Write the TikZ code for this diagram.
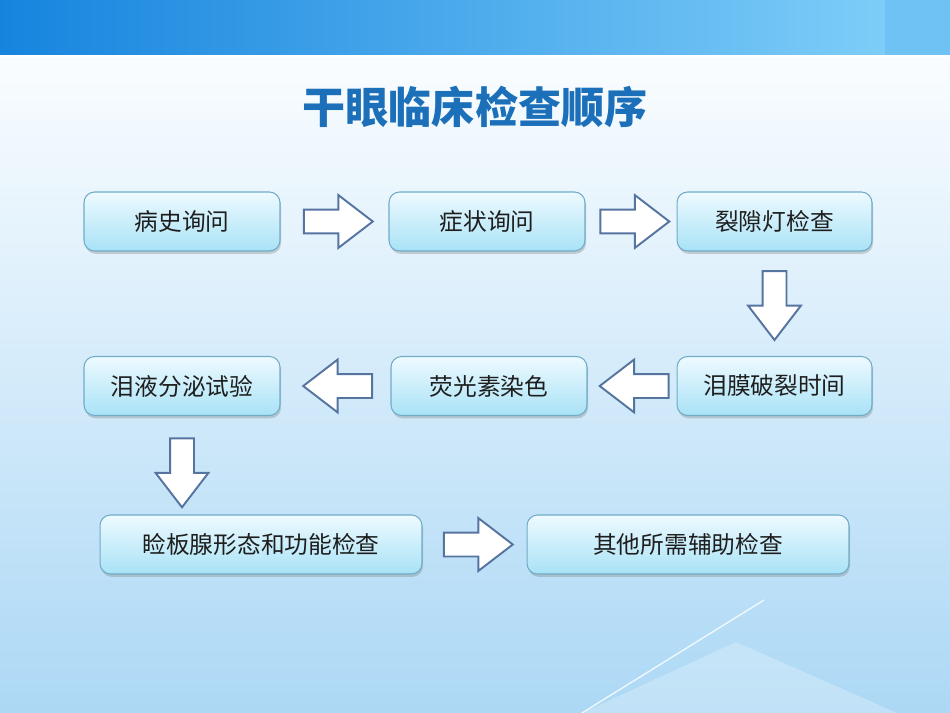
\documentclass[tikz,border=0pt]{standalone}
\usepackage{fontspec}
\newfontfamily\cjk{Noto Sans CJK SC}
\usetikzlibrary{shapes.arrows,shadows,calc}
\definecolor{titleblue}{RGB}{28,112,186}
\definecolor{boxtop}{RGB}{238,250,255}
\definecolor{boxbottom}{RGB}{168,226,246}
\definecolor{boxline}{RGB}{112,172,200}
\definecolor{boxtext}{RGB}{30,30,30}
\definecolor{arrowline}{RGB}{86,116,160}
\definecolor{bannerleft}{RGB}{22,132,222}
\definecolor{bannerright}{RGB}{125,205,248}
\definecolor{bgtop}{RGB}{250,253,255}
\definecolor{bgmiddle}{RGB}{232,243,252}
\definecolor{bgbottom}{RGB}{172,216,245}
\tikzset{
  stepbox/.style={rounded corners=6pt, draw=boxline, line width=0.6pt,
    top color=boxtop, bottom color=boxbottom, minimum height=1.18cm,
    text=boxtext, font=\cjk\fontsize{13.5}{16}\selectfont,
    drop shadow={opacity=0.35, shadow xshift=0.6pt, shadow yshift=-1.6pt}},
  blockarrow/.style={single arrow, draw=arrowline, fill=white, line width=1.1pt,
    inner sep=0pt, inner ysep=0.22cm, minimum height=1.38cm,
    single arrow head extend=0.29cm, single arrow tip angle=75},
}
\begin{document}
\begin{tikzpicture}[x=0.02cm,y=-0.02cm]
    \useasboundingbox (0,0) rectangle (950,713);
    % background
    \shade[top color=bgtop, middle color=bgmiddle, bottom color=bgbottom] (0,56) rectangle (950,713);
    \fill[white, opacity=0.25] (736,642) -- (897,713) -- (582,713) -- cycle;
    \draw[white, line width=0.8pt, opacity=0.8] (764,600) -- (582,713);
    \shade[left color=bannerleft, right color=bannerright] (0,0) rectangle (885,55);
    \fill[bannerright!85!bannerleft] (885,0) rectangle (950,55);
    \draw[white, line width=1.2pt] (0,56) -- (950,56);
    % title
    \node[text=titleblue, font=\cjk\bfseries\fontsize{24.5}{29}\selectfont] (title) at (475,107) {干眼临床检查顺序};
    % steps
    \node[stepbox, minimum width=3.92cm] (history) at (182,221.5) {病史询问};
    \node[stepbox, minimum width=3.92cm] (symptom) at (487,221.5) {症状询问};
    \node[stepbox, minimum width=3.9cm] (slitlamp) at (774.5,221.5) {裂隙灯检查};
    \node[stepbox, minimum width=3.9cm] (tbut) at (774.5,386) {泪膜破裂时间};
    \node[stepbox, minimum width=3.92cm] (fluor) at (489,386) {荧光素染色};
    \node[stepbox, minimum width=3.92cm] (schirmer) at (182,386) {泪液分泌试验};
    \node[stepbox, minimum width=6.44cm] (meibom) at (261,544.5) {睑板腺形态和功能检查};
    \node[stepbox, minimum width=6.44cm] (other) at (688,544.5) {其他所需辅助检查};
    % arrows
    \node[blockarrow] (a1) at ($(history.east)!0.5!(symptom.west)+(-4,0)$) {};
    \node[blockarrow] (a2) at ($(symptom.east)!0.5!(slitlamp.west)+(-4,0)$) {};
    \node[blockarrow, rotate=-90] (a3) at ($(slitlamp.south)!0.5!(tbut.north)+(0,-6)$) {};
    \node[blockarrow, rotate=180] (a4) at ($(tbut.west)!0.5!(fluor.east)+(10,0)$) {};
    \node[blockarrow, rotate=180] (a5) at ($(fluor.west)!0.5!(schirmer.east)+(10,0)$) {};
    \coordinate (down) at (182,465);
    \node[blockarrow, rotate=-90] (a6) at (down) {};
    \node[blockarrow] (a7) at ($(meibom.east)!0.5!(other.west)+(-4,0)$) {};
\end{tikzpicture}
\end{document}
